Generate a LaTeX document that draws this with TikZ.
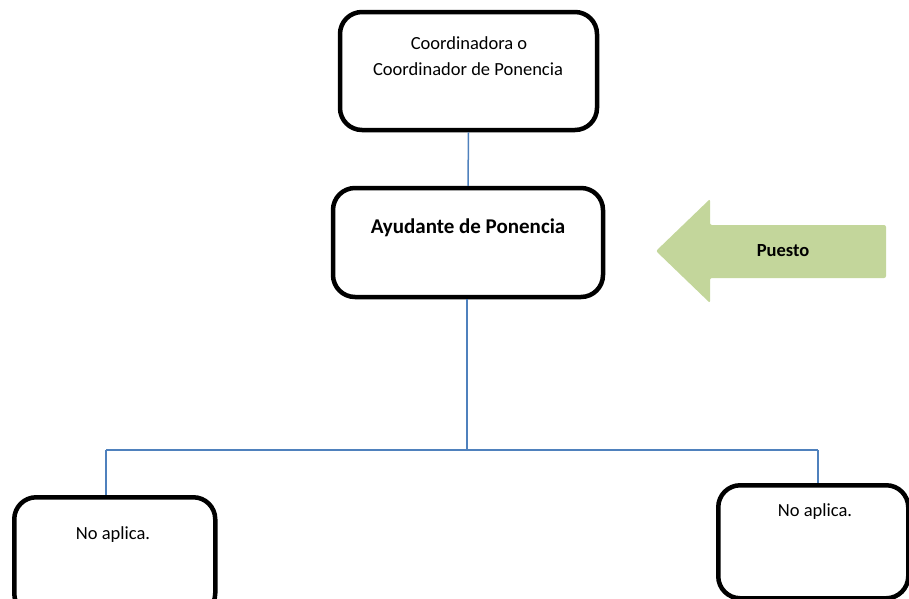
\documentclass[tikz,border=0pt]{standalone}
\usepackage{fontspec}
\setmainfont{Carlito}
\definecolor{conn}{HTML}{4F81BD}
\definecolor{arrowgreen}{HTML}{C3D69B}
\begin{document}
\begin{tikzpicture}[x=1pt,y=-1pt,
  box/.style={draw=black,line width=4.5pt,rounded corners=22pt,fill=white},
  link/.style={draw=conn,line width=1.5pt},
  txt/.style={font=\fontsize{18.5}{26}\selectfont,align=center,inner sep=0pt},
  btxt/.style={font=\fontsize{18.5}{26}\selectfont\bfseries,inner sep=0pt}]
\useasboundingbox (0,0) rectangle (909,598);
\begin{scope}
\clip (0,0) rectangle (909,598);
% connectors
\coordinate (junction) at (467,450);
\coordinate (jl) at (106,450);
\coordinate (jr) at (818,450);
\node[box,minimum width=257pt,minimum height=118pt] (top) at (468.5,71) {};
\node[box,minimum width=270pt,minimum height=109pt] (mid) at (468,242.5) {};
\node[box,minimum width=201pt,minimum height=118pt,anchor=north west] (bl) at (12,495) {};
\node[box,minimum width=190pt,minimum height=113pt,anchor=north west] (br) at (716,483) {};
\draw[link] (top.south) -- (mid.north);
\draw[link] (mid.south -| junction) -- (junction);
\draw[link] (jl) -- (jr);
\draw[link] (jl) -- (jl |- bl.north);
\draw[link] (jr) -- (jr |- br.north);
% texts
\node[txt] (t1) at (469,43) {Coordinadora o};
\node[txt] (t2) at (468,69) {Coordinador de Ponencia};
\node[btxt,font=\fontsize{21}{26}\selectfont\bfseries] (t3) at (468,228) {Ayudante de Ponencia};
\node[txt] (t4) at (113,535) {No aplica.};
\node[txt] (t5) at (815,512) {No aplica.};
% arrow
\fill[arrowgreen,rounded corners=2pt] (656,251) -- (710,199) -- (710,225) -- (886,225) -- (886,278) -- (710,278) -- (710,303) -- cycle;
\node[btxt] (puesto) at (783,251) {Puesto};
\end{scope}
\end{tikzpicture}
\end{document}
